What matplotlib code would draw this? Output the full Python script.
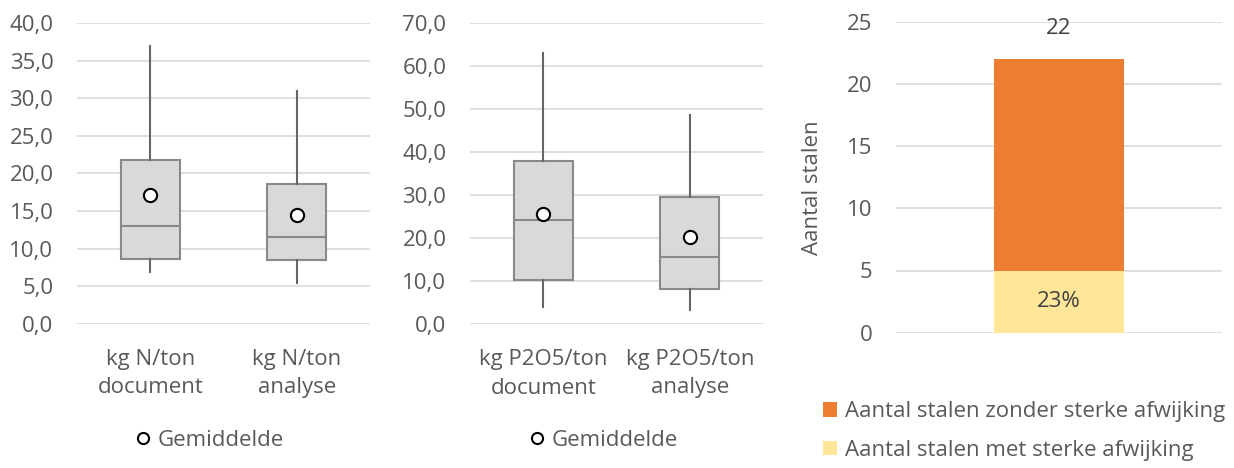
import matplotlib.pyplot as plt
from matplotlib.ticker import FuncFormatter

plt.rcParams['font.family'] = ['Open Sans', 'DejaVu Sans']

# box plot stats
n_labels = ['kg N/ton\ndocument', 'kg N/ton\nanalyse']
n_low = [6.9, 5.4]
n_q1 = [8.7, 8.55]
n_med = [13.05, 11.5]
n_q3 = [21.8, 18.55]
n_high = [36.9, 30.9]
n_mean = [17.2, 14.5]

p_labels = ['kg P2O5/ton\ndocument', 'kg P2O5/ton\nanalyse']
p_low = [4.1, 3.3]
p_q1 = [10.4, 8.1]
p_med = [24.2, 15.65]
p_q3 = [37.9, 29.5]
p_high = [63.0, 48.7]
p_mean = [25.65, 20.2]

# stacked bar
bar_met = 5
bar_zonder = 17
bar_total = bar_met + bar_zonder
pct_label = '23%'

TXT = '#595959'
GRID = '#D9D9D9'
FS = 16
W, H = 1234, 468


def px_axes(fig, x0, x1, ytop, ybot):
    return fig.add_axes([x0 / W, 1 - ybot / H, (x1 - x0) / W, (ybot - ytop) / H])


def style(ax):
    for s in ax.spines.values():
        s.set_visible(False)
    ax.grid(axis='y', color=GRID, lw=1.2)
    ax.set_axisbelow(True)
    ax.tick_params(axis='y', length=0, pad=17, labelsize=FS, labelcolor=TXT)
    ax.tick_params(axis='x', length=0, labelsize=FS, labelcolor=TXT)


def boxpanel(ax, labels, low, q1, med, q3, high, mean, ymax, step):
    stats = []
    for i in range(len(labels)):
        stats.append(dict(whislo=low[i], q1=q1[i], med=med[i], q3=q3[i],
                          whishi=high[i], mean=mean[i], label=labels[i]))
    ax.bxp(stats, positions=[1, 2], widths=0.4, showmeans=True, showcaps=False,
           showfliers=False, patch_artist=True,
           boxprops=dict(facecolor='#D9D9D9', edgecolor='#898989', lw=1.5),
           medianprops=dict(color='#898989', lw=1.5),
           whiskerprops=dict(color='#666666', lw=1.5),
           meanprops=dict(marker='o', markerfacecolor='white',
                          markeredgecolor='black', markersize=9.5, markeredgewidth=1.5))
    ax.set_xlim(0.5, 2.5)
    ax.set_ylim(0, ymax)
    ax.set_yticks([step * k for k in range(int(round(ymax / step)) + 1)])
    ax.yaxis.set_major_formatter(FuncFormatter(lambda v, p: f'{v:.1f}'.replace('.', ',')))
    style(ax)
    ax.tick_params(axis='x', pad=18)
    for t in ax.get_xticklabels():
        t.set_linespacing(1.45)


fig = plt.figure(figsize=(W / 100, H / 100), dpi=100)

ax1 = px_axes(fig, 77, 370, 23, 324)
boxpanel(ax1, n_labels, n_low, n_q1, n_med, n_q3, n_high, n_mean, 40, 5)
ax2 = px_axes(fig, 470, 763, 23.3, 324.3)
boxpanel(ax2, p_labels, p_low, p_q1, p_med, p_q3, p_high, p_mean, 70, 10)

for ax, x in [(ax1, 133), (ax2, 527)]:
    h, = ax.plot([], [], 'o', markerfacecolor='white', markeredgecolor='black',
                 markersize=8, markeredgewidth=1.5, label='Gemiddelde')
    ax.legend(handles=[h], loc='center left', bbox_to_anchor=((x - 12) / W, 1 - 440 / H),
              bbox_transform=fig.transFigure, frameon=False, fontsize=FS,
              handlelength=1.0, handletextpad=0.15, borderpad=0, labelcolor=TXT)

ax3 = px_axes(fig, 896, 1222, 21.7, 332.7)
b1 = ax3.bar([0], [bar_met], width=0.4, color='#FFE699',
             label='Aantal stalen met sterke afwijking')
b2 = ax3.bar([0], [bar_zonder], bottom=[bar_met], width=0.4, color='#ED7D31',
             label='Aantal stalen zonder sterke afwijking')
ax3.set_xlim(-0.5, 0.5)
ax3.set_ylim(0, 25)
ax3.set_yticks(range(0, 26, 5))
ax3.set_xticks([])
style(ax3)
ax3.text(0, bar_met / 2, pct_label, ha='center', va='center', fontsize=FS, color='#404040')
ax3.annotate(str(bar_total), (0, bar_total), xytext=(0, 22), textcoords='offset points',
             ha='center', va='center', fontsize=FS, color='#404040')
fig.text(813 / W, 1 - 188 / H, 'Aantal stalen', rotation=90, ha='center', va='center',
         fontsize=FS, color=TXT)
ax3.legend(handles=[b2, b1], loc='upper left', bbox_to_anchor=(823 / W, 1 - 401 / H),
           bbox_transform=fig.transFigure, frameon=False, fontsize=FS,
           handlelength=0.65, handleheight=0.65, handletextpad=0.35, labelspacing=0.8,
           borderpad=0, borderaxespad=0, labelcolor=TXT)

fig.savefig('out.png', dpi=100)
